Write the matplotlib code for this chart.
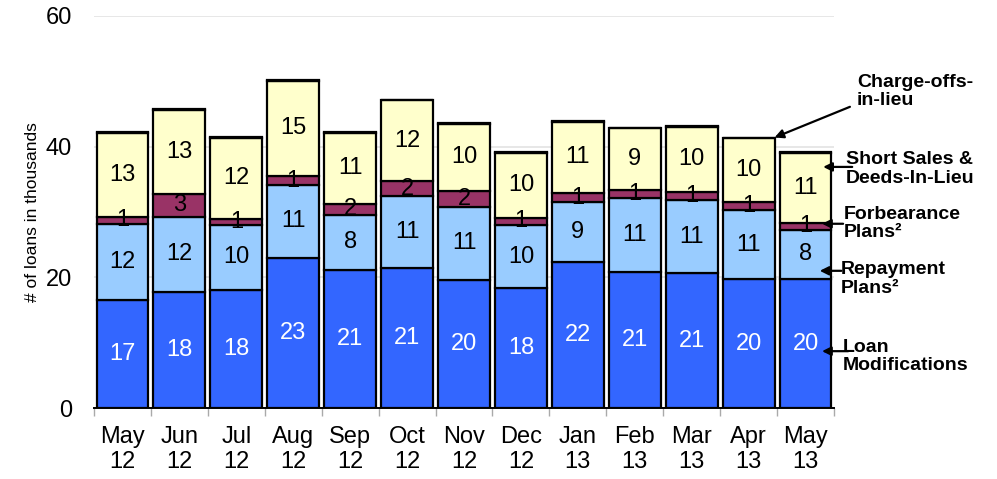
import matplotlib
matplotlib.use("Agg")
import matplotlib.pyplot as plt
import numpy as np

plt.rcParams['font.family'] = ['Liberation Sans', 'DejaVu Sans']

months = ["May\n12", "Jun\n12", "Jul\n12", "Aug\n12", "Sep\n12", "Oct\n12", "Nov\n12",
          "Dec\n12", "Jan\n13", "Feb\n13", "Mar\n13", "Apr\n13", "May\n13"]
loan_mods = [16.6, 17.7, 18.1, 23.0, 21.2, 21.4, 19.6, 18.3, 22.3, 20.8, 20.6, 19.7, 19.7]
repayment = [11.6, 11.6, 9.9, 11.1, 8.4, 11.0, 11.2, 9.7, 9.2, 11.3, 11.2, 10.6, 7.6]
forbearance = [1.0, 3.4, 1.0, 1.4, 1.7, 2.3, 2.4, 1.1, 1.4, 1.3, 1.3, 1.3, 1.0]
short_sales = [12.9, 12.9, 12.4, 14.6, 10.8, 12.4, 10.3, 10.0, 10.9, 9.4, 9.9, 9.7, 10.8]
charge_offs = [0.1, 0.1, 0.1, 0.1, 0.1, 0.1, 0.1, 0.1, 0.1, 0.1, 0.1, 0.1, 0.1]

series = [
    (loan_mods, "#3366FF", "white", True),
    (repayment, "#99CCFF", "black", True),
    (forbearance, "#993366", "black", True),
    (short_sales, "#FFFFCC", "black", True),
    (charge_offs, "#FFFFFF", "black", False),
]

fig = plt.figure(figsize=(9.97, 4.79), dpi=100)
ax = fig.add_axes([0.0943, 0.1482, 0.7422, 0.8184])

x = np.arange(len(months))
width = 0.91
bottom = np.zeros(len(months))
for vals, color, tcolor, labelled in series:
    vals = np.array(vals)
    ax.bar(x, vals, width, bottom=bottom, color=color, edgecolor="black",
           linewidth=1.6, zorder=3)
    if labelled:
        for xi, b, v in zip(x, bottom, vals):
            ax.text(xi, b + v / 2, f"{round(v)}", ha="center", va="center",
                    fontsize=17, color=tcolor, zorder=4)
    bottom = bottom + vals
totals = bottom

ax.set_xlim(-0.5, len(months) - 0.5)
ax.set_ylim(0, 60)
ax.set_yticks([0, 20, 40, 60])
ax.tick_params(axis="y", length=0, pad=16, labelsize=17)
ax.yaxis.grid(True, color="#E3E3E3", linewidth=1.2, zorder=0)
ax.set_axisbelow(True)

ax.set_xticks(x)
ax.set_xticklabels(months, fontsize=17)
ax.tick_params(axis="x", which="major", length=0, pad=13)
ax.set_xticks(np.arange(len(months) + 1) - 0.5, minor=True)
ax.tick_params(axis="x", which="minor", length=6, color="#AAAAAA", width=1)

for side in ["left", "right", "top"]:
    ax.spines[side].set_visible(False)
ax.spines["bottom"].set_linewidth(1.4)
ax.spines["bottom"].set_zorder(5)

ax.set_ylabel("# of loans in thousands", fontsize=12.5, labelpad=4)

arrow = dict(arrowstyle="-|>", color="black", lw=1.6, mutation_scale=13,
             shrinkA=0, shrinkB=0)
ann_size = 14

last = len(months) - 1
ax.annotate("", xy=(last - 1 + width / 2, totals[last - 1]), xytext=(12.78, 46.1),
            arrowprops=arrow, annotation_clip=False)
ax.text(12.9, 48.4, "Charge-offs-\nin-lieu", fontsize=ann_size, fontweight="bold",
        ha="left", va="center", linespacing=1.1, clip_on=False)

labels = [
    ("Short Sales &\nDeeds-In-Lieu", 12.71, 36.6, 12.82, 36.9, 12.31, 36.9),
    ("Forbearance\nPlans²", 12.68, 28.2, 12.66, 28.2, 12.29, 28.2),
    ("Repayment\nPlans²", 12.62, 19.75, 12.63, 21.0, 12.25, 21.0),
    ("Loan\nModifications", 12.66, 7.9, 12.75, 8.7, 12.29, 8.7),
]
for text, tx, ty, ax0, ay0, ax1, ay1 in labels:
    ax.text(tx, ty, text, fontsize=ann_size, fontweight="bold", ha="left",
            va="center", linespacing=1.1, clip_on=False, zorder=6)
    ax.annotate("", xy=(ax1, ay1), xytext=(ax0, ay0), arrowprops=arrow,
                annotation_clip=False, zorder=6)

fig.savefig("out.png", dpi=100)
